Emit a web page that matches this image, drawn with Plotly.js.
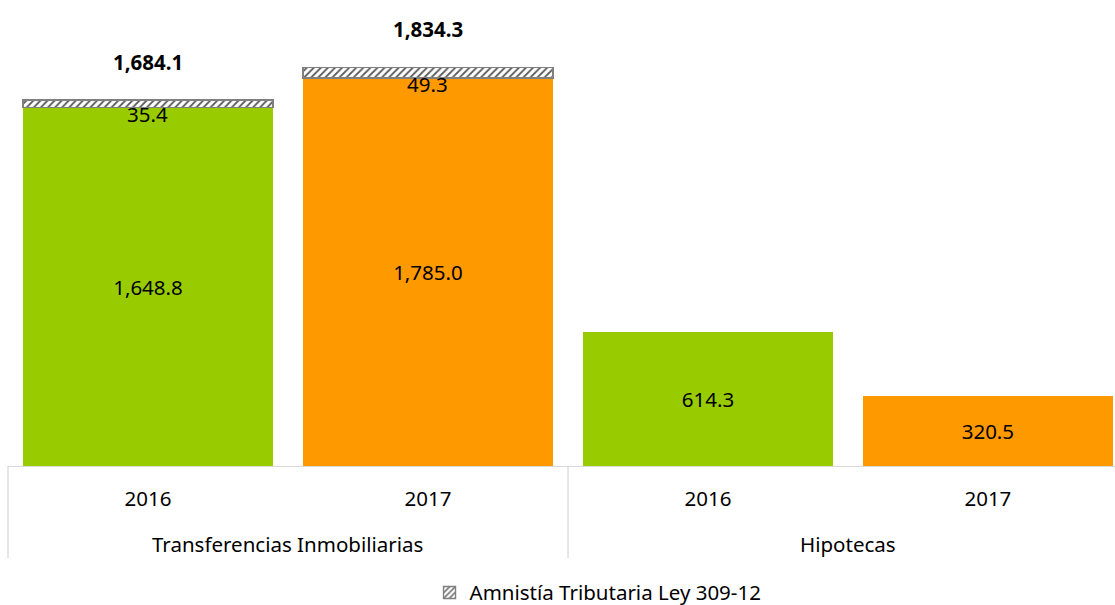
<!DOCTYPE html>
<html>
<head>
<meta charset="utf-8">
<script src="https://cdn.plot.ly/plotly-3.0.1.min.js"></script>
<style>html,body{margin:0;padding:0;background:#fff;}#chart{width:1115px;height:605px;}</style>
</head>
<body>
<div id="chart"></div>
<script>
const groups = ["Transferencias Inmobiliarias", "Hipotecas"];
const years = ["2016", "2017", "2016", "2017"];
const baseValues = [1648.8, 1785.0, 614.3, 320.5];
const amnistia = [35.4, 49.3, null, null];
const totals = [1684.1, 1834.3, null, null];
const amnistiaName = "Amnistía Tributaria Ley 309-12";

const GREEN = "#99CC00", ORANGE = "#FF9900";
const barColors = [GREEN, ORANGE, GREEN, ORANGE];
const FONT = "'Noto Sans', 'Open Sans', sans-serif";
const FS = 20.5;
const idx = years.map((_, i) => i);
const fmt = v => v.toLocaleString("en-US", {minimumFractionDigits: 1, maximumFractionDigits: 1});

const traces = [
  {
    type: "bar", x: idx, y: baseValues, showlegend: false,
    marker: {color: barColors, line: {width: 0}},
    text: baseValues.map(fmt), textposition: "inside", insidetextanchor: "middle",
    textfont: {family: FONT, size: FS, color: "#000"}, hoverinfo: "skip"
  },
  {
    type: "bar", x: idx, y: amnistia, name: amnistiaName, showlegend: true,
    marker: {color: "#ffffff", line: {color: "#808080", width: 1.4},
      pattern: {shape: "/", fgcolor: "#595959", bgcolor: "#ffffff", size: 5, solidity: 0.35}},
    textposition: "none", hoverinfo: "skip"
  }
];

const annotations = [];
idx.forEach(i => {
  if (amnistia[i] != null) {
    annotations.push({x: i, y: baseValues[i], xref: "x", yref: "y", text: fmt(amnistia[i]),
      showarrow: false, yanchor: "middle", yshift: -6, font: {family: FONT, size: FS, color: "#000"}});
  }
  if (totals[i] != null) {
    annotations.push({x: i, y: totals[i], xref: "x", yref: "y", text: "<b>" + fmt(totals[i]) + "</b>",
      showarrow: false, yanchor: "middle", yshift: 38, font: {family: FONT, size: 20.5, color: "#000"}});
  }
});
groups.forEach((g, k) => {
  annotations.push({x: 2 * k + 0.5, y: -0.175, xref: "x", yref: "paper", text: g, showarrow: false,
    yanchor: "middle", font: {family: FONT, size: FS, color: "#000"}});
});

const divider = {color: "#d9d9d9", width: 1.3};
const shapes = [
  {type: "line", xref: "paper", yref: "paper", x0: 0, x1: 0, y0: 0, y1: -0.206, line: divider},
  {type: "line", xref: "paper", yref: "paper", x0: 0.5059, x1: 0.5059, y0: 0, y1: -0.206, line: divider}
];

const layout = {
  width: 1115, height: 605,
  margin: {l: 8, r: 0, t: 20, b: 139, autoexpand: false},
  paper_bgcolor: "#fff", plot_bgcolor: "#fff",
  barmode: "stack", bargap: 0.107,
  font: {family: FONT, size: FS, color: "#000"},
  xaxis: {
    range: [-0.5, 3.454], tickvals: idx, ticktext: years, ticks: "",
    showline: true, linecolor: "#d9d9d9", linewidth: 1.3, showgrid: false, zeroline: false,
    tickfont: {family: FONT, size: FS, color: "#000"}, ticklabelstandoff: 14, fixedrange: true
  },
  yaxis: {range: [0, 2052], visible: false, showgrid: false, zeroline: false, fixedrange: true},
  showlegend: true,
  legend: {orientation: "h", x: 0.533, xanchor: "center", y: -0.284, yanchor: "middle",
    font: {family: FONT, size: FS, color: "#000"}, itemwidth: 30, bgcolor: "rgba(0,0,0,0)"},
  annotations: annotations,
  shapes: shapes
};

Plotly.newPlot("chart", traces, layout, {displayModeBar: false, staticPlot: true});
</script>
</body>
</html>
